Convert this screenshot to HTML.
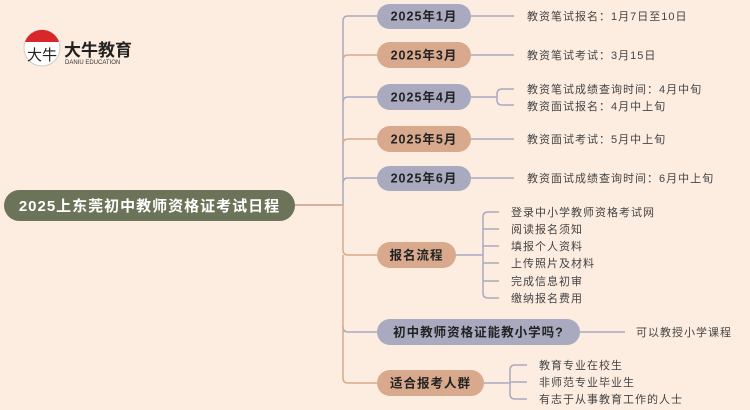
<!DOCTYPE html>
<html><head><meta charset="utf-8"><style>
body{margin:0;width:750px;height:410px;background:#fdede0;overflow:hidden;font-family:"Liberation Sans","Noto Sans CJK SC",sans-serif}
svg{position:absolute;left:0;top:0}
</style></head><body>
<svg width="750" height="410" viewBox="0 0 750 410" font-family="Liberation Sans, Noto Sans CJK SC, sans-serif">
<g fill="none" stroke-width="1.5">
<path d="M295 205H343V21Q343 16 348 16H377" stroke="#a9aac0"/>
<path d="M343 60Q343 55 348 55H377" stroke="#d8a98c"/>
<path d="M343 102Q343 97 348 97H377" stroke="#a9aac0"/>
<path d="M343 144Q343 139 348 139H377" stroke="#d8a98c"/>
<path d="M343 183Q343 178 348 178H377" stroke="#a9aac0"/>
<path d="M295 205H343V250Q343 255 348 255H377" stroke="#d8a98c"/>
<path d="M343 327Q343 332 348 332H377" stroke="#a9aac0"/>
<path d="M343 255V378Q343 383 348 383H377" stroke="#d8a98c"/>
<g stroke="#a9aac0">
<path d="M471 16H514M471 55H514M471 178H514M471 139H514"/>
<path d="M471 97H497M514 89H502Q497 89 497 94V100Q497 105 502 105H514"/>
<path d="M456 255H483M499 212H488Q483 212 483 217V293Q483 298 488 298H499M483 229H499M483 246H499M483 263H499M483 281H499"/>
<path d="M580 332H625"/>
<path d="M484 383H510M527 365H515Q510 365 510 370V394Q510 399 515 399H527M510 382H527"/>
</g></g>
<rect x="4" y="190" width="291" height="31" rx="15.5" fill="#6b7358"/>
<text x="149.5" y="211" text-anchor="middle" fill="#fff" font-size="15" font-weight="bold" letter-spacing="1">2025上东莞初中教师资格证考试日程</text>
<g font-size="12.5" font-weight="bold" fill="#222" text-anchor="middle" letter-spacing="1">
<rect x="377" y="4" width="94" height="25" rx="12.5" fill="#a9aac0"/><text x="424" y="20.5">2025年1月</text>
<rect x="377" y="42" width="94" height="26" rx="13" fill="#d8a98c"/><text x="424" y="59.5">2025年3月</text>
<rect x="377" y="84" width="94" height="26" rx="13" fill="#a9aac0"/><text x="424" y="101.5">2025年4月</text>
<rect x="377" y="126" width="94" height="26" rx="13" fill="#d8a98c"/><text x="424" y="143.5">2025年5月</text>
<rect x="377" y="166" width="94" height="25" rx="12.5" fill="#a9aac0"/><text x="424" y="182.5">2025年6月</text>
<rect x="377" y="242" width="79" height="26" rx="13" fill="#d8a98c"/><text x="416.5" y="259.5">报名流程</text>
<rect x="377" y="319" width="203" height="26" rx="13" fill="#a9aac0"/><text x="478.5" y="336.5">初中教师资格证能教小学吗?</text>
<rect x="377" y="370" width="107" height="26" rx="13" fill="#d8a98c"/><text x="430.5" y="387.5">适合报考人群</text>
</g>
<g font-size="11" fill="#444" letter-spacing="1">
<text x="527" y="20">教资笔试报名：1月7日至10日</text>
<text x="527" y="59">教资笔试考试：3月15日</text>
<text x="527" y="93">教资笔试成绩查询时间：4月中旬</text>
<text x="527" y="110">教资面试报名：4月中上旬</text>
<text x="527" y="143">教资面试考试：5月中上旬</text>
<text x="527" y="182">教资面试成绩查询时间：6月中上旬</text>
<text x="511" y="216">登录中小学教师资格考试网</text>
<text x="511" y="233">阅读报名须知</text>
<text x="511" y="250">填报个人资料</text>
<text x="511" y="267">上传照片及材料</text>
<text x="511" y="285">完成信息初审</text>
<text x="511" y="302">缴纳报名费用</text>
<text x="636" y="336">可以教授小学课程</text>
<text x="539" y="369">教育专业在校生</text>
<text x="539" y="386">非师范专业毕业生</text>
<text x="539" y="403">有志于从事教育工作的人士</text>
</g>
<circle cx="42" cy="48" r="18" fill="#fff" stroke="#ccc"/>
<path d="M25 42A18 18 0 0 1 59 42Z" fill="#d8262a"/>
<text x="42" y="60" font-size="15" text-anchor="middle" fill="#222">大牛</text>
<text x="64" y="56" font-size="17" font-weight="bold" fill="#222">大牛教育</text>
<text x="65" y="64" font-size="6" fill="#333">DANIU EDUCATION</text>
</svg>
</body></html>
